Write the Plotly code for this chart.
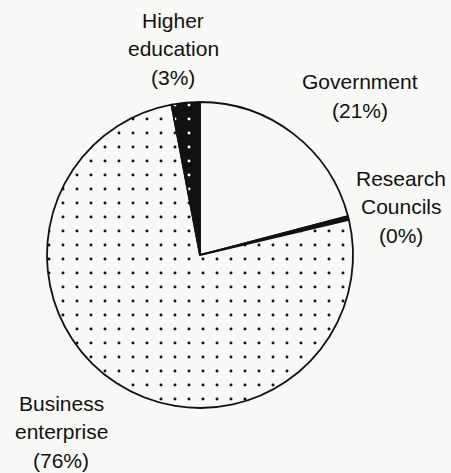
import plotly.graph_objects as go

# Data
labels = ["Government", "Research Councils", "Business enterprise", "Higher education"]
label_lines = [["Government"], ["Research", "Councils"], ["Business", "enterprise"], ["Higher", "education"]]
values = [21, 0.4, 76, 3]

# Styles
W, H = 451, 473
bg = "#f8f8f6"
slice_bg = [bg, "#111111", bg, "#111111"]
slice_fg = ["#111111", "#111111", "#111111", "#ffffff"]
shapes = ["", "", ".", "."]
# first-line centre of each label block (pixels) and line pitch
label_pos = [(360, 82), (401, 178), (61, 403), (173, 20)]
pitch = 28.5

total = sum(values)
cx, cy, r = 200, 255, 153

fig = go.Figure(go.Pie(
    labels=labels,
    values=values,
    sort=False,
    direction="clockwise",
    rotation=0,
    textinfo="none",
    hoverinfo="skip",
    showlegend=False,
    marker=dict(
        colors=slice_bg,
        line=dict(color="#111111", width=1.8),
        pattern=dict(shape=shapes, bgcolor=slice_bg, fgcolor=slice_fg,
                     size=14, solidity=0.035, fillmode="replace"),
    ),
    domain=dict(x=[(cx - r) / W, (cx + r) / W], y=[1 - (cy + r) / H, 1 - (cy - r) / H]),
))

annotations = []
for lines, v, (px, py) in zip(label_lines, values, label_pos):
    pct = v / total * 100
    all_lines = lines + [f"({pct:.0f}%)"]
    for i, t in enumerate(all_lines):
        annotations.append(dict(
            x=px / W, y=1 - (py + i * pitch) / H, xref="paper", yref="paper",
            text=t, showarrow=False, xanchor="center", yanchor="middle",
            borderpad=0,
            font=dict(family="Liberation Sans, Arial, sans-serif", size=21, color="#111111"),
        ))

fig.update_layout(
    width=W, height=H,
    margin=dict(l=0, r=0, t=0, b=0),
    paper_bgcolor=bg, plot_bgcolor=bg,
    annotations=annotations,
)

fig.write_html("out.html")
